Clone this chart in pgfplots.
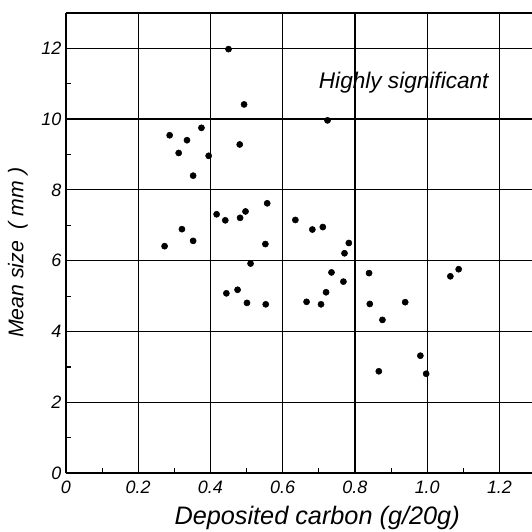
\documentclass[border=0pt]{standalone}
\usepackage{fontspec}
\setmainfont{Liberation Sans}
\usepackage{pgfplots}
\usepackage{pgfplotstable}
\pgfplotsset{compat=1.18}
\usetikzlibrary{calc}

% deposited carbon (g/20g) vs mean size (mm)
\pgfplotstableread{
x y
0.287 9.54
0.335 9.40
0.375 9.75
0.312 9.04
0.395 8.96
0.481 9.28
0.352 8.40
0.557 7.62
0.417 7.31
0.441 7.14
0.482 7.21
0.497 7.39
0.321 6.89
0.352 6.56
0.273 6.41
0.552 6.47
0.511 5.92
0.444 5.08
0.475 5.18
0.501 4.81
0.553 4.77
0.635 7.15
0.682 6.88
0.711 6.95
0.783 6.50
0.771 6.21
0.735 5.67
0.768 5.41
0.720 5.11
0.666 4.84
0.706 4.77
0.839 5.65
0.841 4.78
0.939 4.83
0.876 4.33
1.087 5.76
1.064 5.56
0.981 3.32
0.997 2.81
0.866 2.88
0.450 11.97
0.493 10.41
0.724 9.96
}\carbondata

\newcommand{\tl}[1]{\textit{\fontsize{13.5}{13.5}\selectfont #1}}

\begin{document}
\begin{tikzpicture}
\begin{axis}[
  scale only axis, width=350.4pt, height=346.4pt,
  xmin=0, xmax=1.29, ymin=0, ymax=13,
  axis x line*=box, axis y line*=left,
  xtick={0,0.2,...,1.2},
  xticklabels={\tl{0},\tl{0.2},\tl{0.4},\tl{0.6},\tl{0.8},\tl{1.0},\tl{1.2}},
  ytick={0,2,...,12},
  yticklabels={\tl{0},\tl{2},\tl{4},\tl{6},\tl{8},\tl{10},\tl{12}},
  minor xtick={0.1,0.3,...,1.1},
  minor ytick={1,3,...,11},
  xtick pos=left, ytick pos=left,
  grid=major,
  major grid style={black, line width=0.85pt},
  major tick length=0pt, minor tick length=4pt,
  tick style={black, line width=0.8pt},
  axis line style={black, line width=1.4pt},
  xticklabel style={yshift=-2pt},
  xlabel={Deposited carbon (g/20g)},
  ylabel={Mean size~~( mm )},
  every axis x label/.style={at={(axis description cs:0.539,-0.097)}, anchor=center,
    font=\itshape\fontsize{19}{19}\selectfont},
  every axis y label/.style={at={(axis description cs:-0.103,0.479)}, anchor=center, rotate=90,
    font=\itshape\fontsize{16}{16}\selectfont},
]
\addplot[only marks, mark=*, mark size=2.3pt, black] table[x=x, y=y] {\carbondata};
\node[font=\itshape\fontsize{17}{17}\selectfont] at (axis cs:0.935,11.03) {Highly significant};
\end{axis}
\pgfresetboundingbox
\path[use as bounding box] ($(current axis.south west)+(-49.6pt,-44.1pt)$) rectangle ($(current axis.north east)+(0pt,9.5pt)$);
\end{tikzpicture}
\end{document}
